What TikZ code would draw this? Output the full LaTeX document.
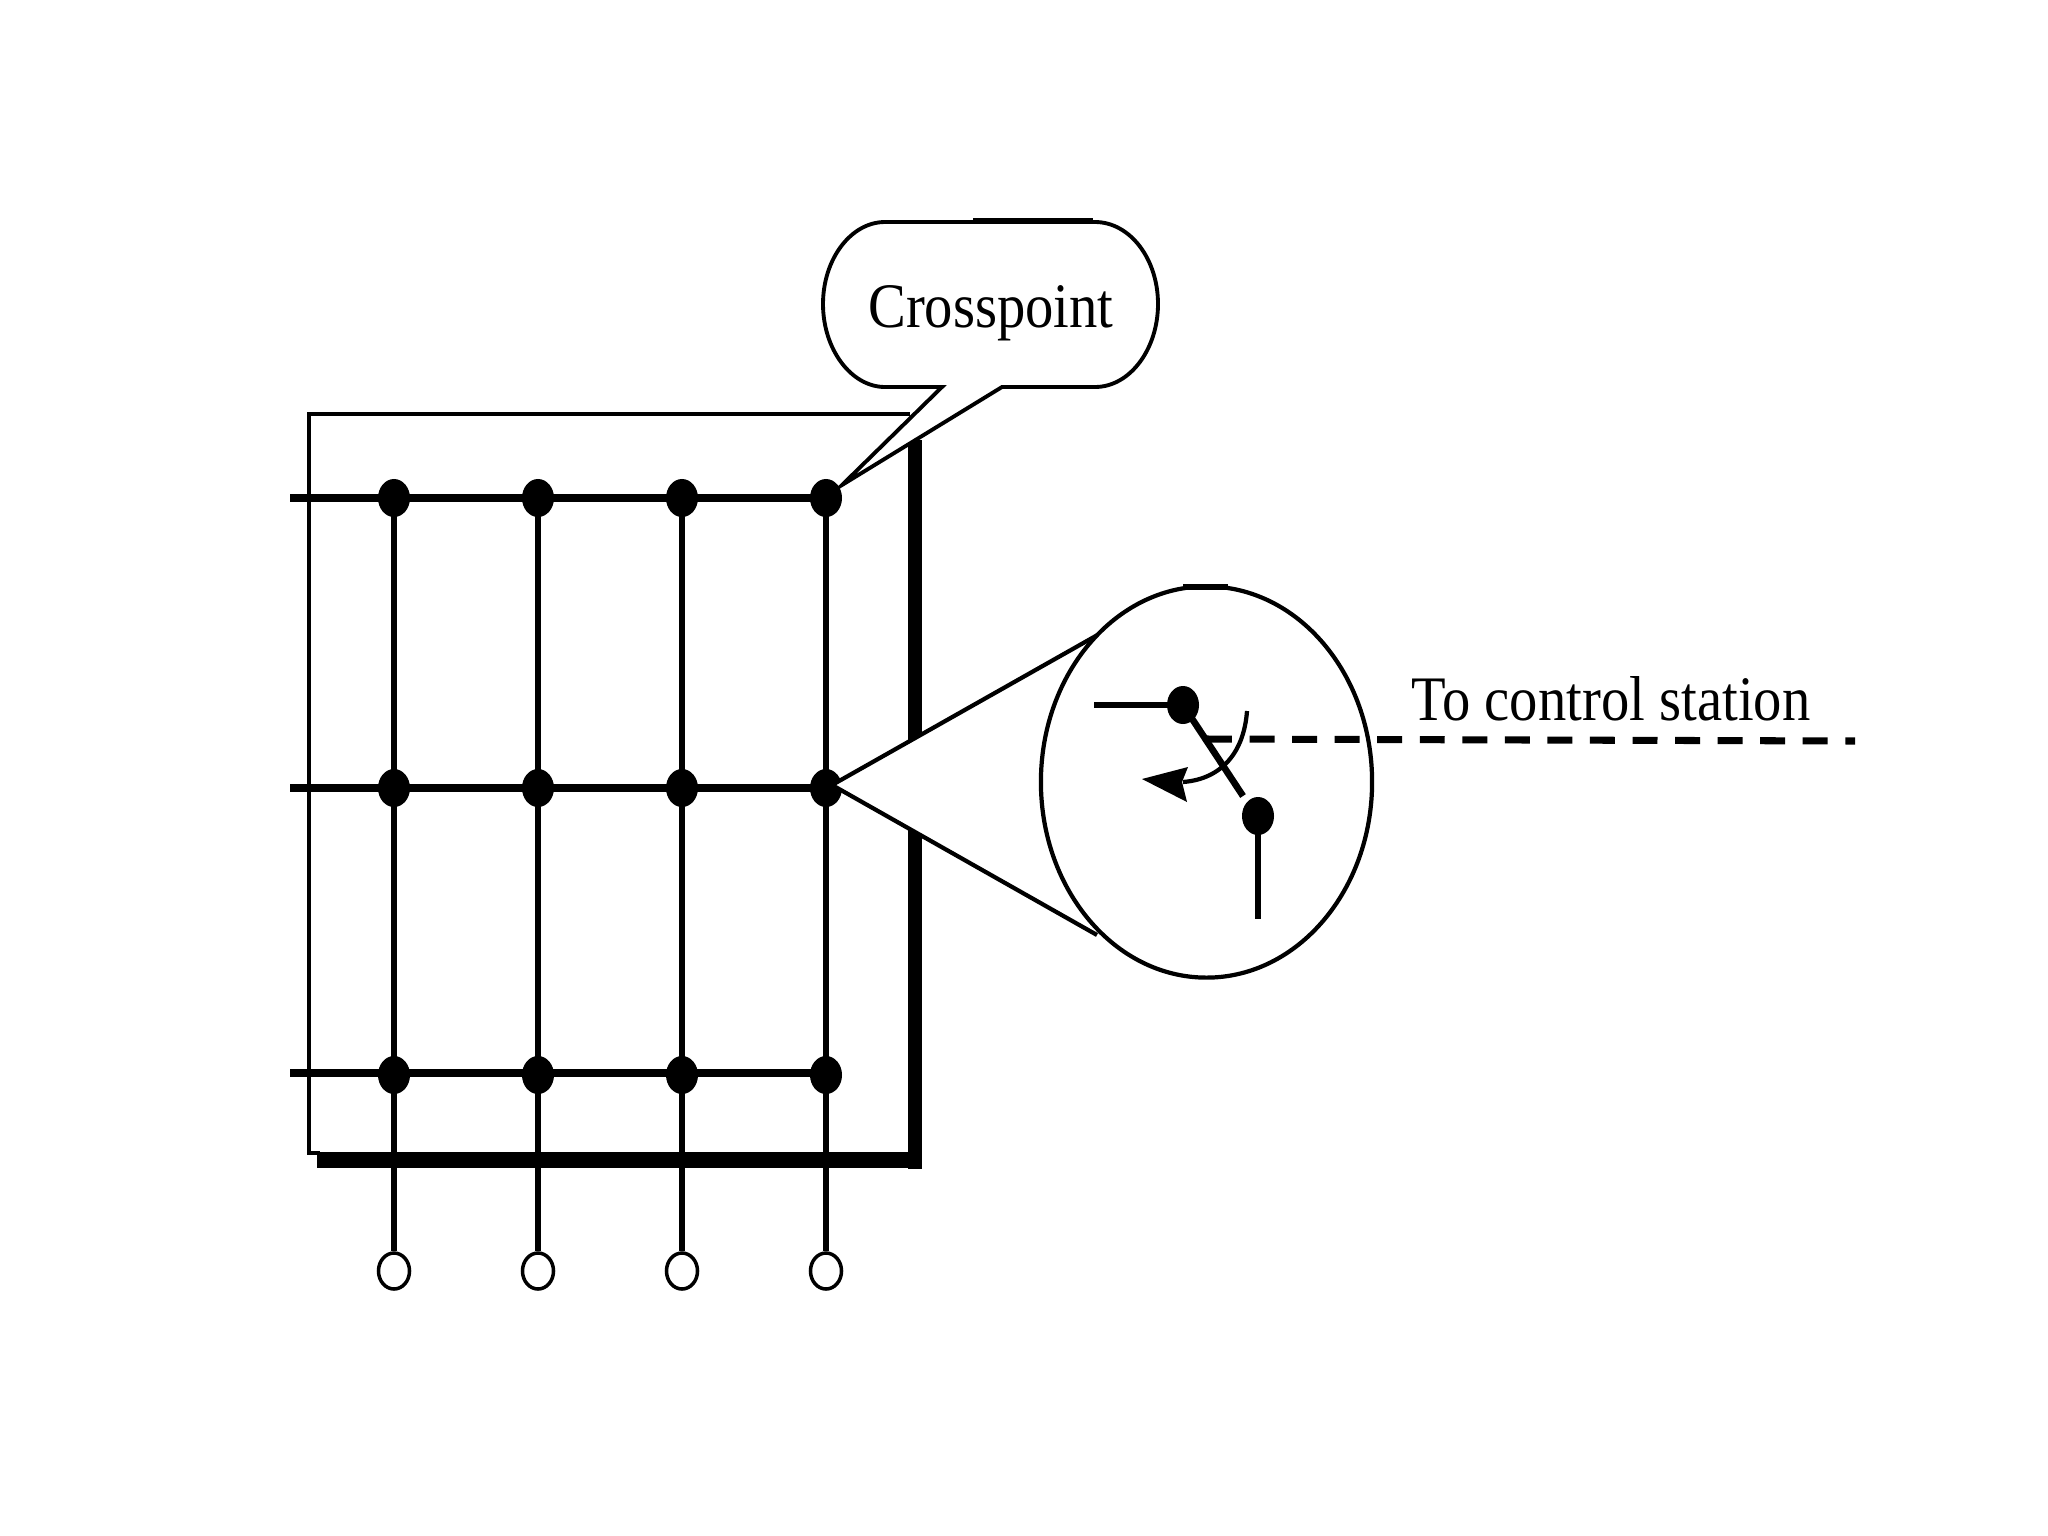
\documentclass[tikz,border=0pt]{standalone}
\usepackage{graphicx}
\usepackage{fontspec}
\setmainfont{Liberation Serif}
\usetikzlibrary{shapes.geometric}
\tikzset{
  bigdot/.style={ellipse,fill=black,draw=none,inner sep=0pt,minimum width=0.32cm,minimum height=0.38cm},
  opendot/.style={ellipse,fill=white,draw=black,line width=1pt,inner sep=0pt,minimum width=0.31cm,minimum height=0.36cm},
  hwire/.style={line width=2pt},
  vwire/.style={line width=1.8pt},
  switchwire/.style={line width=1.9pt},
  framethin/.style={line width=1.2pt},
  framethick/.style={line width=4pt},
  framebase/.style={line width=4.8pt},
  outline/.style={line width=1.1pt,fill=white},
  cone/.style={line width=1.2pt},
  lbl/.style={inner sep=0pt,font=\fontsize{16.1}{18}\selectfont,anchor=base},
  ctrl/.style={line width=2pt,dash pattern=on 7.1pt off 5pt}
}
\begin{document}
\begin{tikzpicture}[x=0.01cm,y=-0.01cm]
\useasboundingbox (0,0) rectangle (2048,1536);
% switching matrix frame
\coordinate (fTL) at (309,414);
\coordinate (fTR) at (910,414);
\coordinate (fBL) at (309,1153);
\coordinate (fBE) at (320,1153);
\coordinate (rTop) at (915,440);
\coordinate (rBot) at (915,1169);
\coordinate (bL) at (317,1160);
\coordinate (bR) at (922,1160);
\draw[framethin] (fBE) -- (fBL) -- (fTL) -- (fTR);
\draw[framethick] (rTop) -- (rBot);
\draw[framebase] (bL) -- (bR);
% crosspoints
\foreach \c/\x in {1/394,2/538,3/682,4/826}{
  \node[bigdot] (a\c) at (\x,498) {};
  \node[bigdot] (b\c) at (\x,788) {};
  \node[bigdot] (c\c) at (\x,1075) {};
  \node[opendot] (o\c) at (\x,1271) {};
  \draw[vwire] (a\c.center) -- (b\c.center);
  \draw[vwire] (b\c.center) -- (c\c.center);
  \draw[vwire] (c\c.center) -- (o\c);
}
\coordinate (la) at (290,498);
\coordinate (lb) at (290,788);
\coordinate (lc) at (290,1073);
\draw[hwire] (la) -- (a1.center) -- (a4.center);
\draw[hwire] (lb) -- (b1.center) -- (b4.center);
\draw[hwire] (lc) -- (c1.center |- lc) -- (c4.center |- lc);
% magnifier
\coordinate (tip) at (832,785);
\coordinate (cu) at (1101,633);
\coordinate (cl) at (1097,935);
\fill[white] (tip) -- (cu) -- (cl) -- cycle;
\draw[cone] (cu) -- (tip) -- (cl);
\node[ellipse,draw=black,fill=white,line width=1.2pt,inner sep=0pt,minimum width=3.31cm,minimum height=3.91cm] (lens) at (1206.5,782) {};
\coordinate (lt1) at (1183,587);
\coordinate (lt2) at (1228,587);
\draw[line width=1.6pt] (lt1) -- (lt2);
% switch
\node[bigdot] (s1) at (1183,705) {};
\node[bigdot] (s2) at (1258,816) {};
\coordinate (s1l) at (1094,705);
\coordinate (s2d) at (1258,919);
\coordinate (swe) at (1243,796);
\draw[switchwire] (s1l) -- (s1.center);
\draw[switchwire] (s2.center) -- (s2d);
\draw[switchwire] (s1.center) -- (swe);
\coordinate (ds) at (1207,739);
\coordinate (de) at (1855,741);
\draw[ctrl] (ds) -- (de);
\coordinate (as) at (1247,711);
\coordinate (ae) at (1183,782);
\draw[line width=1.2pt] (as) .. controls (1244,752) and (1222,779) .. (ae);
\fill (1142,779) -- (1188,767) -- (1182,782) -- (1187,802) -- cycle;
% callout
\draw[outline] (942,387) -- (885,387) .. controls (851,387) and (823,349) .. (823,304)
  .. controls (823,259) and (851,222) .. (885,222) -- (1095,222)
  .. controls (1130,222) and (1158,259) .. (1158,304)
  .. controls (1158,349) and (1130,387) .. (1095,387) -- (1002,387) -- (842,485) -- cycle;
\node[lbl] (cp) at (991,327) {\scalebox{1}[1.12]{Crosspoint}};
\coordinate (tk1) at (973,221);
\coordinate (tk2) at (1093,221);
\draw[line width=1.6pt] (tk1) -- (tk2);
\node[lbl] (ctl) at (1611,720) {\scalebox{1}[1.12]{To control station}};
\end{tikzpicture}
\end{document}
